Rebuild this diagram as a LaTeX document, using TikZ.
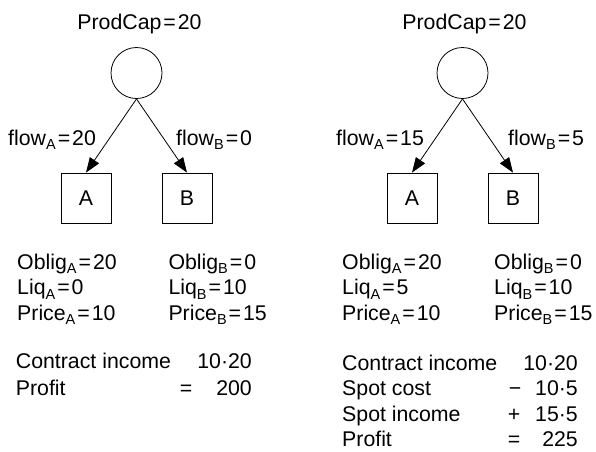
\documentclass[tikz,border=0pt]{standalone}
\usepackage{fontspec}
\setmainfont{Liberation Sans}
\usetikzlibrary{arrows.meta}
\newcommand\sbs[1]{\raisebox{-4.5pt}{\fontsize{14.5}{15}\selectfont #1}}
\newcommand\eq{\kern2pt=\kern2pt}
\begin{document}
\begin{tikzpicture}[x=1pt,y=-1pt,
  every node/.style={font=\fontsize{21.3}{24}\selectfont},
  txt/.style={inner sep=0pt,anchor=base west},
  ctr/.style={inner sep=0pt,anchor=base},
  rgt/.style={inner sep=0pt,anchor=base east},
  src/.style={draw,circle,minimum size=51pt,inner sep=0pt,line width=0.8pt},
  mkt/.style={draw,minimum size=50pt,inner sep=0pt,line width=0.8pt},
  flowarrow/.style={line width=0.8pt,-{Triangle[length=15pt,width=11pt]}}]
\useasboundingbox (0,0) rectangle (596,451);
% left panel
\node[ctr] (capL) at (139.5,29.5) {ProdCap\eq 20};
\node[src] (cL) at (136.5,73) {};
\node[mkt] (aL) at (86,198) {A};
\node[mkt] (bL) at (187,198) {B};
\draw[flowarrow] (cL.south) -- (aL.north);
\draw[flowarrow] (cL.south) -- (bL.north);
\node[txt] (faL) at (8,145) {flow\sbs{A}\eq 20};
\node[txt] (fbL) at (176,145) {flow\sbs{B}\eq 0};
\node[txt] (oaL) at (17,269) {Oblig\sbs{A}\eq 20};
\node[txt] (laL) at (17,294.5) {Liq\sbs{A}\eq 0};
\node[txt] (paL) at (17,320) {Price\sbs{A}\eq 10};
\node[txt] (obL) at (168.3,269) {Oblig\sbs{B}\eq 0};
\node[txt] (lbL) at (168.3,294.5) {Liq\sbs{B}\eq 10};
\node[txt] (pbL) at (168.3,320) {Price\sbs{B}\eq 15};
\node[txt] (ciL) at (15.7,368.5) {Contract income};
\node[rgt] (civL) at (252,368.5) {10·20};
\node[txt] (prL) at (15.7,395) {Profit};
\node[ctr] (eqL) at (186,395) {=};
\node[rgt] (prvL) at (252,395) {200};
% right panel
\node[ctr] (capR) at (464.5,29.5) {ProdCap\eq 20};
\node[src] (cR) at (462.5,73) {};
\node[mkt] (aR) at (412,198) {A};
\node[mkt] (bR) at (513,198) {B};
\draw[flowarrow] (cR.south) -- (aR.north);
\draw[flowarrow] (cR.south) -- (bR.north);
\node[txt] (faR) at (336,145) {flow\sbs{A}\eq 15};
\node[txt] (fbR) at (508,145) {flow\sbs{B}\eq 5};
\node[txt] (oaR) at (342,269) {Oblig\sbs{A}\eq 20};
\node[txt] (laR) at (342,294.5) {Liq\sbs{A}\eq 5};
\node[txt] (paR) at (342,320) {Price\sbs{A}\eq 10};
\node[txt] (obR) at (494,269) {Oblig\sbs{B}\eq 0};
\node[txt] (lbR) at (494,294.5) {Liq\sbs{B}\eq 10};
\node[txt] (pbR) at (494,320) {Price\sbs{B}\eq 15};
\node[txt] (ciR) at (342,370) {Contract income};
\node[rgt] (civR) at (578,370) {10·20};
\node[txt] (scR) at (342,395.7) {Spot cost};
\node[ctr] (mnR) at (515,395.7) {−};
\node[rgt] (scvR) at (578,395.7) {10·5};
\node[txt] (siR) at (342,421.7) {Spot income};
\node[ctr] (plR) at (514,421.7) {+};
\node[rgt] (sivR) at (578,421.7) {15·5};
\node[txt] (prR) at (342,446.7) {Profit};
\node[ctr] (eqR) at (514,446.7) {=};
\node[rgt] (prvR) at (578,446.7) {225};
\end{tikzpicture}
\end{document}
